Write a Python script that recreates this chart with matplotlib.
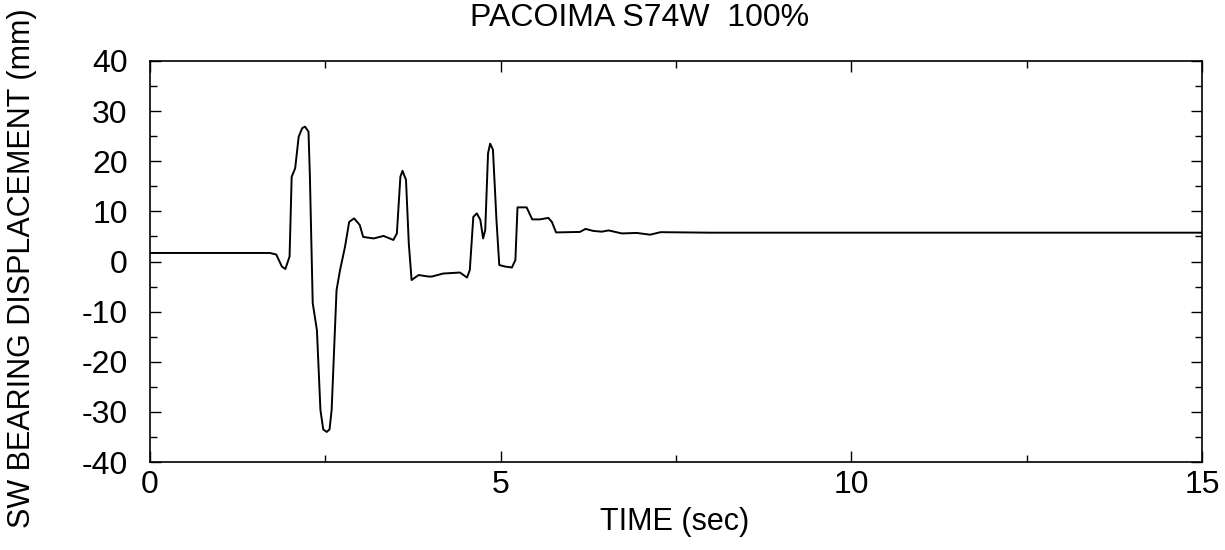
import numpy as np
import matplotlib.pyplot as plt
from matplotlib.ticker import MultipleLocator

plt.rcParams['font.family'] = ['Liberation Sans', 'DejaVu Sans']
plt.rcParams['axes.unicode_minus'] = False

# displacement trace (time in sec, displacement in mm)
time = [0.0, 1.71, 1.80, 1.88, 1.93, 1.99, 2.02, 2.07, 2.12, 2.17, 2.21, 2.26,
        2.28, 2.32, 2.38, 2.43, 2.47, 2.52, 2.56, 2.59, 2.66, 2.71, 2.78, 2.84,
        2.91, 2.99, 3.04, 3.19, 3.33, 3.47, 3.52, 3.57, 3.60, 3.65, 3.69, 3.73,
        3.83, 3.97, 4.02, 4.18, 4.42, 4.52, 4.56, 4.61, 4.66, 4.71, 4.75, 4.78,
        4.82, 4.85, 4.89, 4.94, 4.98, 5.06, 5.16, 5.21, 5.24, 5.37, 5.45, 5.56,
        5.68, 5.73, 5.79, 6.13, 6.21, 6.32, 6.44, 6.54, 6.68, 6.73, 6.94, 7.13,
        7.28, 8.0, 15.0]
disp = [1.7, 1.7, 1.4, -1.0, -1.5, 1.0, 16.9, 18.6, 24.9, 26.6, 26.9, 25.9,
        16.9, -8.3, -13.7, -29.6, -33.5, -34.0, -33.5, -29.6, -5.7, -1.7, 2.9, 7.9,
        8.6, 7.3, 4.9, 4.6, 5.1, 4.3, 5.6, 16.9, 18.1, 16.3, 3.6, -3.7,
        -2.7, -3.0, -3.0, -2.4, -2.2, -3.2, -1.7, 8.9, 9.6, 8.3, 4.6, 6.3,
        21.6, 23.5, 22.3, 8.3, -0.7, -1.0, -1.2, 0.3, 10.8, 10.8, 8.4, 8.4,
        8.7, 7.9, 5.8, 5.9, 6.5, 6.1, 5.95, 6.2, 5.75, 5.6, 5.7, 5.35,
        5.85, 5.75, 5.75]

fig = plt.figure(figsize=(12.25, 5.5), dpi=100)
ax = fig.add_axes([150/1225, 88/550, 1052/1225, 401/550])

ax.plot(time, disp, color='black', linewidth=1.4)

ax.set_xlim(0, 15)
ax.set_ylim(-40, 40)
ax.xaxis.set_major_locator(MultipleLocator(5))
ax.xaxis.set_minor_locator(MultipleLocator(2.5))
ax.yaxis.set_major_locator(MultipleLocator(10))
ax.yaxis.set_minor_locator(MultipleLocator(5))
ax.tick_params(which='both', direction='in', top=True, right=True,
               labelsize=23, width=1.0)
ax.tick_params(which='major', length=8)
ax.tick_params(axis='y', which='major', pad=16)
ax.tick_params(axis='x', which='major', pad=6)
ax.tick_params(which='minor', length=5)
for s in ax.spines.values():
    s.set_linewidth(1.2)

fig.text(640/1225, 1 - 18/550, 'PACOIMA S74W  100%', ha='center', va='center',
         fontsize=23)
fig.text(675/1225, 1 - 522/550, 'TIME (sec)', ha='center', va='center',
         fontsize=22)
fig.text(22/1225, 1 - 268/550, 'SW BEARING DISPLACEMENT (mm)', ha='center',
         va='center', rotation=90, fontsize=22)

fig.savefig('out.png', dpi=100)
